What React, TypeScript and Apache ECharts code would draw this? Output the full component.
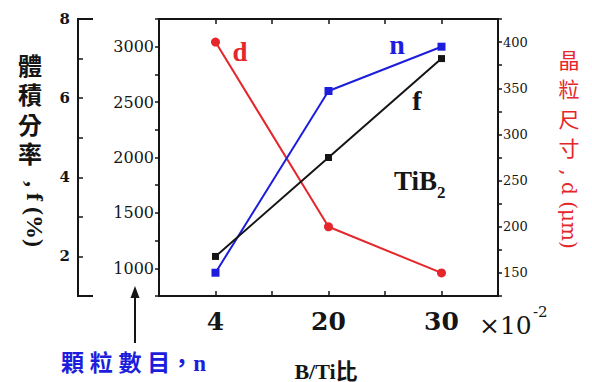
import React, { useEffect, useRef } from "react";
import * as echarts from "echarts";

const categories = ["4", "20", "30"];
const fValues = [2, 4.5, 7];
const nValues = [960, 2600, 3000];
const dValues = [400, 200, 150];

const SERIF = "Liberation Serif, Noto Sans CJK TC, serif";
const NUM = "DejaVu Serif, serif";
const CJK = "Liberation Serif, Noto Sans CJK TC, sans-serif";
const BLACK = "#151515";
const BLUE = "#1d1ddc";
const RED = "#e5262b";

export default function App() {
  const ref = useRef<HTMLDivElement>(null);
  useEffect(() => {
    if (!ref.current) return;
    const chart = echarts.init(ref.current, null, { renderer: "svg" });
    const xFormatter = (v: number) => {
      const i = Math.round(v);
      if (Math.abs(v - i) < 1e-6 && i >= 0 && i < categories.length) return categories[i];
      return "";
    };
    const frameLine = { show: true, onZero: false, lineStyle: { color: BLACK, width: 2 } };
    const option: any = {
      animation: false,
      backgroundColor: "#ffffff",
      textStyle: { fontFamily: SERIF },
      grid: { left: 159, right: 94, top: 19, bottom: 86 },
      xAxis: [
        {
          type: "value", position: "bottom", min: -0.5, max: 2.5, interval: 0.5,
          axisLine: frameLine,
          axisTick: { show: true, inside: true, length: 5, lineStyle: { color: BLACK, width: 1.5 } },
          axisLabel: { formatter: xFormatter, margin: 13, fontFamily: NUM, fontSize: 25, fontWeight: "bold", color: BLACK },
          splitLine: { show: false },
        },
        {
          type: "value", position: "top", min: -0.5, max: 2.5, interval: 0.5,
          axisLine: frameLine,
          axisTick: { show: true, inside: true, length: 5, lineStyle: { color: BLACK, width: 1.5 } },
          axisLabel: { show: false },
          splitLine: { show: false },
        },
      ],
      yAxis: [
        {
          type: "value", position: "left", min: 750, max: 3250, interval: 250,
          axisLine: frameLine,
          axisTick: { show: true, inside: false, length: 4, lineStyle: { color: BLACK, width: 1.5 } },
          axisLabel: {
            formatter: (v: number) => (v % 500 === 0 ? String(v) : ""),
            margin: 5, fontFamily: NUM, fontSize: 16, color: BLACK,
          },
          splitLine: { show: false },
        },
        {
          type: "value", position: "right", min: 125, max: 425, interval: 25,
          axisLine: frameLine,
          axisTick: { show: true, inside: false, length: 4, lineStyle: { color: BLACK, width: 1.5 } },
          axisLabel: {
            formatter: (v: number) => (v % 50 === 0 ? String(v) : ""),
            margin: 5, fontFamily: NUM, fontSize: 13, color: BLACK,
          },
          splitLine: { show: false },
        },
        {
          type: "value", position: "left", offset: 81, min: 1, max: 8, interval: 1,
          axisLine: frameLine,
          axisTick: { show: true, inside: true, length: 5, lineStyle: { color: BLACK, width: 1.5 } },
          axisLabel: {
            formatter: (v: number) => (v % 2 === 0 ? String(v) : ""),
            margin: 8, fontFamily: NUM, fontSize: 15, fontWeight: "bold", color: BLACK,
          },
          splitLine: { show: false },
        },
      ],
      series: [
        {
          name: "d", type: "line", xAxisIndex: 0, yAxisIndex: 1,
          data: dValues.map((v, i) => [i, v]),
          symbol: "circle", symbolSize: 9,
          lineStyle: { color: RED, width: 2 }, itemStyle: { color: RED },
        },
        {
          name: "n", type: "line", xAxisIndex: 0, yAxisIndex: 0,
          data: nValues.map((v, i) => [i, v]),
          symbol: "rect", symbolSize: 8,
          lineStyle: { color: BLUE, width: 2 }, itemStyle: { color: BLUE },
        },
        {
          name: "f", type: "line", xAxisIndex: 0, yAxisIndex: 2,
          data: fValues.map((v, i) => [i, v]),
          symbol: "rect", symbolSize: 7,
          lineStyle: { color: BLACK, width: 2 }, itemStyle: { color: BLACK },
        },
      ],
      graphic: {
        elements: [
          { type: "line", shape: { x1: 77, y1: 19, x2: 93, y2: 19 }, style: { stroke: BLACK, lineWidth: 2 } },
          { type: "line", shape: { x1: 77, y1: 296, x2: 93, y2: 296 }, style: { stroke: BLACK, lineWidth: 2 } },
          { type: "line", shape: { x1: 135, y1: 296, x2: 135, y2: 343 }, style: { stroke: BLACK, lineWidth: 2 } },
          { type: "polygon", shape: { points: [[135, 286], [130.5, 298], [139.5, 298]] }, style: { fill: BLACK } },
          {
            type: "text", x: 30, y: 52,
            style: { text: "體\n積\n分\n率", font: `bold 24px ${CJK}`, lineHeight: 29.5, fill: BLACK, align: "center", verticalAlign: "top" },
          },
          {
            type: "text", x: 35, y: 214, rotation: -Math.PI / 2,
            style: { text: ", f (%)", font: `bold 24px ${SERIF}`, fill: BLACK, align: "center", verticalAlign: "middle" },
          },
          {
            type: "text", x: 569, y: 44,
            style: { text: "晶\n粒\n尺\n寸", font: `21px Noto Sans CJK TC, sans-serif`, lineHeight: 29.5, fill: RED, align: "center", verticalAlign: "top" },
          },
          {
            type: "text", x: 569, y: 209, rotation: -Math.PI / 2,
            style: { text: ", d (μm)", font: `20px ${NUM}`, fill: RED, align: "center", verticalAlign: "middle" },
          },
          {
            type: "text", x: 61, y: 363,
            style: { text: "顆 粒 數 目，n", font: `bold 23px ${CJK}`, fill: BLUE, align: "left", verticalAlign: "middle" },
          },
          {
            type: "text", x: 326, y: 371,
            style: { text: "B/Ti比", font: `bold 22px ${CJK}`, fill: BLACK, align: "center", verticalAlign: "middle" },
          },
          {
            type: "text", x: 479, y: 325,
            style: { text: "×10", font: `25px ${NUM}`, fill: BLACK, align: "left", verticalAlign: "middle" },
          },
          {
            type: "text", x: 533, y: 312,
            style: { text: "-2", font: `15px ${NUM}`, fill: BLACK, align: "left", verticalAlign: "middle" },
          },
          {
            type: "text", x: 240, y: 52,
            style: { text: "d", font: `bold 27px ${SERIF}`, fill: RED, align: "center", verticalAlign: "middle" },
          },
          {
            type: "text", x: 397, y: 44,
            style: { text: "n", font: `bold 28px ${SERIF}`, fill: BLUE, align: "center", verticalAlign: "middle" },
          },
          {
            type: "text", x: 417, y: 100,
            style: { text: "f", font: `bold 28px ${SERIF}`, fill: BLACK, align: "center", verticalAlign: "middle" },
          },
          {
            type: "text", x: 394, y: 181,
            style: { text: "TiB", font: `bold 27px ${SERIF}`, fill: BLACK, align: "left", verticalAlign: "middle" },
          },
          {
            type: "text", x: 437, y: 192,
            style: { text: "2", font: `bold 17px ${SERIF}`, fill: BLACK, align: "left", verticalAlign: "middle" },
          },
        ],
      },
    };
    chart.setOption(option);
    return () => chart.dispose();
  }, []);
  return <div ref={ref} style={{ position: "absolute", left: 0, top: 0, width: 592, height: 382 }} />;
}
